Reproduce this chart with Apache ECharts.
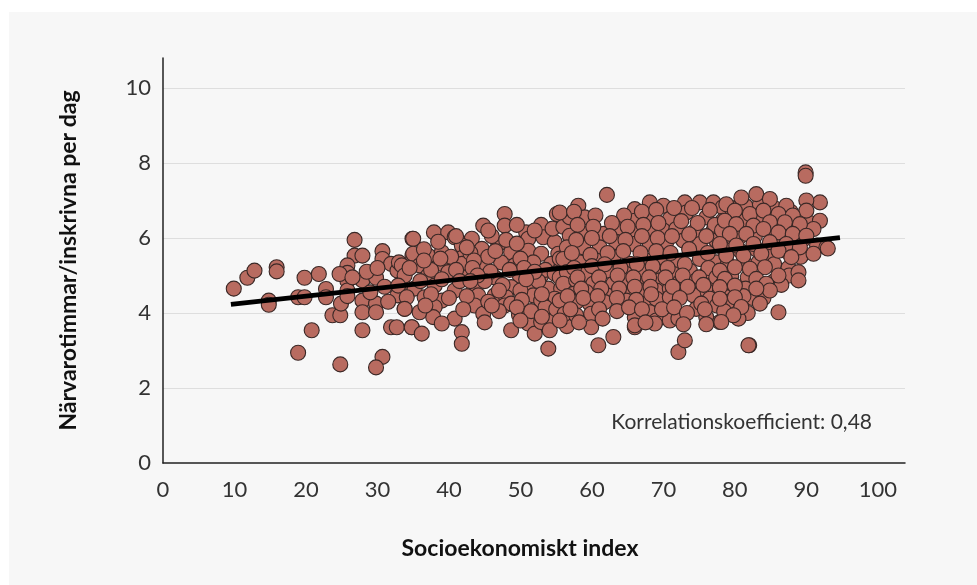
<!DOCTYPE html>
<html>
<head>
<meta charset="utf-8">
<script src="https://cdn.jsdelivr.net/npm/echarts@6/dist/echarts.min.js"></script>
<style>
html,body{margin:0;padding:0;background:#ffffff;}
#chart{width:977px;height:585px;}
</style>
</head>
<body>
<div id="chart"></div>
<script>
// Tick values
var xTicks = [0,10,20,30,40,50,60,70,80,90,100];
var yTicks = [0,2,4,6,8,10];
var gridValues = [2,4,6,8,10];

// Regression line end points
var regLineX = [9.5, 94.7];
var regLineY = [4.23, 6.01];

// Scatter points [socioekonomiskt index, närvarotimmar per dag]
var pointsLow = [
[9.9,4.65],[11.8,4.94],[12.8,5.13],[15.9,5.22],[15.9,5.11],[14.8,4.33],[14.8,4.22],[19.8,4.94],[21.8,5.04],
[18.9,4.42],[19.8,4.42],[20.8,3.54],[18.9,2.94],[22.8,4.64],[22.8,4.42],[23.7,3.94],[24.8,3.94],[24.9,4.25],
[24.8,2.63],[26.8,5.95],[26.8,5.53],[27.9,5.53],[25.8,5.27],[25.8,5.07],[25.8,4.85],[25.8,4.6],[25.8,4.45],
[24.7,5.04],[27.9,4.87],[27.9,4.33],[27.9,4.02],[27.9,3.54],[29.8,4.94],[29.8,4.25],[29.8,4.02],[30.7,5.65],
[30.7,5.44],[31.9,5.31],[32.8,5.13],[31.9,3.62],[30.7,2.83],[29.8,2.55],[32.8,4.47],[33.8,4.11],[34.9,5.98],
[34.9,5.53],[34.8,3.62],[26.5,4.95],[28.5,5.1],[29,4.55],[31,4.7],[31.5,4.3],[33.5,4.8],[33,5.35],[30,5.2]
];
var pointsMid = [
[44.8,6.33],[47.8,6.64],[47.8,6.33],[55.1,6.64],[52.9,6.35],[37.9,6.15],[39.9,6.15],[35.0,5.98],[40.8,6.02],
[43.2,5.98],[50.8,6.15],[51.1,5.98],[53.2,6.02],[54.8,5.89],[46.9,5.84],[41.8,5.80],[44.6,5.71],[35.0,5.58],
[37.1,5.53],[39.0,5.62],[42.0,5.49],[48.7,5.62],[51.1,5.66],[52.9,5.58],[55.3,5.58],[33.4,5.27],[35.9,5.27],
[39.0,5.31],[41.8,5.31],[44.8,5.22],[47.3,5.35],[49.2,5.27],[51.8,5.35],[54.3,5.31],[55.7,5.22],[33.8,5.0],
[37.1,5.0],[39.9,5.09],[42.9,5.0],[46.4,4.95],[49.9,5.0],[52.9,5.0],[32.9,4.73],[35.2,4.65],[38.0,4.73],
[40.8,4.6],[43.8,4.73],[48.7,4.69],[51.1,4.69],[53.9,4.65],[55.7,4.65],[34.1,4.42],[36.6,4.42],[39.0,4.33],
[44.1,4.47],[46.4,4.47],[48.0,4.42],[51.8,4.47],[54.8,4.38],[33.8,4.11],[35.9,4.02],[38.0,4.16],[43.6,4.2],
[44.8,3.98],[47.8,4.2],[48.7,4.25],[52.9,4.33],[37.8,3.89],[40.8,3.85],[32.7,3.62],[34.8,3.62],[36.2,3.45],
[39.0,3.72],[41.8,3.49],[41.8,3.18],[48.7,3.54],[51.1,3.72],[52.0,3.45],[52.9,3.76],[54.6,3.8],[54.1,3.54],
[53.9,3.05],[36.5,5.7],[38.5,5.9],[40.3,5.5],[43,5.6],[45.5,5.5],[46,6.05],[48,5.95],[49.5,5.85],[50,5.45],
[53.5,5.15],[45.8,5.1],[43.5,5.4],[41,5.15],[37.5,5.15],[34.5,5.2],[36,4.85],[39,4.9],[41.5,4.85],[45,4.85],
[47.5,4.75],[50,4.6],[52.5,4.85],[54.8,5.05],[50.5,5.2],[42.5,4.45],[37.5,4.5],[45.5,4.3],[50.2,4.35],
[53.5,4.15],[47,4.05],[49.8,3.95]
];
var pointsMidFill = [
[41,6.05],[42.5,5.75],[45.5,6.2],[49.5,6.35],[52,6.2],[54.5,6.25],[56,6.3],[43.3,5.2],[46.5,5.65],[48.5,5.15],
[52,5.1],[55.5,5.45],[44,5.0],[47,4.6],[50.8,4.9],[53,4.5],[55.5,4.95],[43,4.85],[46,4.2],[49.5,4.15],
[51.5,4.05],[55,4.1],[40,4.4],[38.8,5.45],[36.5,5.4],[36.7,4.2],[42,4.1],[45,3.75],[56.5,3.65],[53,3.9],[50,3.8]
];
var pointsHigh = [
[62.1,7.15],[58.1,6.86],[56.9,6.55],[59.0,6.55],[55.5,6.68],[66.0,6.77],[68.1,6.95],[70.0,6.86],[73.0,6.95],
[75.1,6.95],[77.0,6.95],[78.3,6.82],[66.0,6.46],[68.1,6.51],[70.9,6.51],[73.2,6.68],[76.0,6.55],[78.3,6.46],
[63.9,6.28],[61.6,6.11],[56.9,6.06],[59.0,6.11],[66.0,6.11],[68.1,6.2],[70.0,6.2],[71.8,6.24],[74.2,6.15],
[77.0,6.2],[78.8,6.11],[56.5,5.75],[58.8,5.75],[61.1,5.75],[63.4,5.89],[65.8,5.84],[68.1,5.84],[70.4,5.89],
[72.8,5.93],[75.1,5.84],[77.4,5.93],[78.8,5.8],[56.0,5.44],[58.3,5.35],[60.6,5.4],[63.0,5.49],[65.3,5.31],
[67.6,5.4],[69.5,5.35],[71.8,5.35],[75.1,5.44],[77.4,5.35],[56.5,5.09],[59.0,5.04],[62.1,5.13],[64.8,5.04],
[66.9,5.13],[69.0,5.13],[71.4,5.04],[73.7,5.13],[76.0,5.04],[78.4,5.09],[56.0,4.78],[57.8,4.87],[60.2,4.78],
[63.0,4.78],[64.8,4.87],[67.2,4.78],[69.5,4.87],[72.3,4.82],[74.6,4.87],[77.0,4.78],[78.8,4.69],[57.4,4.51],
[59.2,4.56],[62.1,4.47],[64.8,4.51],[66.9,4.6],[69.0,4.6],[70.9,4.65],[73.7,4.56],[76.0,4.6],[77.9,4.6],
[55.5,4.33],[57.8,4.29],[59.7,4.25],[61.8,4.29],[64.8,4.33],[67.6,4.25],[69.0,4.38],[70.9,4.42],[74.2,4.47],
[76.5,4.38],[78.8,4.42],[56.2,3.98],[57.8,3.94],[59.9,3.98],[66.0,3.98],[68.1,4.02],[69.0,3.8],[70.9,3.8],
[72.1,3.85],[74.6,4.11],[76.0,3.89],[77.9,3.76],[55.5,3.8],[59.9,3.62],[66.0,3.62],[60.9,3.14],[63.0,3.36],
[72.1,2.96],[73.0,3.27],[66.0,3.89],[66.0,3.67],[68.8,3.72]
];
var pointsHighFill = [
[57.5,6.7],[60.5,6.6],[64.5,6.6],[67,6.7],[69,6.75],[71.5,6.8],[74,6.8],[76.5,6.75],[79.5,6.8],[81.5,6.85],[83.5,6.9],[85.5,6.8],[87.8,6.7],
[58,6.35],[60.2,6.3],[62.8,6.4],[65,6.3],[67.2,6.35],[69.3,6.4],[72.5,6.45],[74.8,6.4],[77.2,6.35],[79.5,6.5],[81.3,6.45],[83.2,6.5],[85.8,6.35],[88.2,6.25],[90.5,6.4],
[57.8,5.95],[60,6.0],[62.5,6.05],[64.7,5.95],[67,6.05],[69.2,6.0],[71.2,6.05],[73.6,6.1],[76,6.05],[78.2,6.2],[80.5,6.0],[82.8,6.05],[85.4,6.0],[87.6,6.0],[89.5,5.95],
[57.2,5.6],[59.8,5.55],[62.2,5.6],[64.4,5.65],[66.8,5.6],[69,5.65],[71,5.6],[73.6,5.7],[76.2,5.6],[78.5,5.7],[80.8,5.65],[83,5.7],[85.2,5.55],[87.2,5.65],[89.2,5.5],[91.5,5.8],
[57.5,5.2],[60,5.25],[61.8,5.3],[64,5.2],[66.3,5.3],[68.5,5.25],[70.6,5.2],[73,5.3],[76.3,5.2],[79,5.3],[81.3,5.35],[83.3,5.35],[85.5,5.3],[87.5,5.2],
[58,4.95],[61,4.95],[63.6,5.0],[65.8,4.95],[68,4.95],[70.3,4.95],[72.7,5.0],[75,4.95],[77.4,4.95],[79.5,5.0],[81.8,4.95],[85.5,4.85],[87.6,5.0],
[58.5,4.65],[61.3,4.65],[63.8,4.65],[66,4.7],[68.2,4.7],[71.3,4.7],[73.4,4.7],[75.6,4.75],[78.4,4.8],[81.5,4.65],[82.5,4.4],[86.5,4.75],
[56.6,4.45],[58.8,4.4],[60.8,4.45],[63.5,4.4],[66.2,4.35],[68.3,4.5],[72.3,4.4],[75.3,4.25],[77.5,4.2],[79,4.3],[81.2,4.45],[84,4.4],
[57,4.1],[61,4.1],[63.5,4.05],[65.2,4.15],[67,4.1],[69.8,4.1],[71.5,4.15],[73.3,4.0],[75.8,4.1],[78.5,4.05],[81.8,4.0],[83.5,4.25],
[58.2,3.75],[61.5,3.85],[67.5,3.75],[72.8,3.7],[76,3.7],[80.5,3.85]
];
var pointsTop = [
[89.9,7.75],[89.9,7.66],[91.9,6.95],[90.0,7.0],[90.0,6.73],[91.9,6.46],[91.0,6.24],[92.8,5.75],[91.0,5.58],
[88.9,5.09],[88.9,4.87],[86.1,4.02],[82.0,3.14],[83.0,7.17],[80.9,7.08],[84.9,7.04],[87.2,6.86],[78.8,6.9],
[80.0,6.73],[82.1,6.64],[84.0,6.73],[86.1,6.64],[88.1,6.6],[78.6,6.46],[80.2,6.37],[82.6,6.33],[84.9,6.42],
[87.0,6.42],[89.1,6.37],[79.3,6.11],[81.6,6.11],[84.0,6.24],[86.1,6.15],[88.1,6.11],[90.0,6.06],[77.9,5.84],
[80.2,5.8],[82.6,5.84],[84.9,5.89],[87.2,5.84],[89.1,5.75],[78.8,5.53],[81.2,5.53],[83.7,5.58],[86.1,5.66],
[87.9,5.49],[80.0,5.22],[82.1,5.18],[84.2,5.22],[86.1,5.0],[77.9,5.13],[78.6,4.91],[80.0,4.73],[83.0,4.91],
[84.4,4.78],[84.9,4.6],[83.0,4.65],[77.9,4.69],[80.0,4.42],[77.9,4.38],[80.9,4.16],[79.8,3.94],[78.1,3.76],
[93.0,5.72],[81.9,3.14]
];

var chart = echarts.init(document.getElementById('chart'));
var font = 'Lato, "Open Sans", sans-serif';
var allPoints = pointsLow.concat(pointsMid, pointsMidFill, pointsHigh, pointsHighFill, pointsTop);

chart.setOption({
  backgroundColor: '#ffffff',
  animation: false,
  textStyle: {fontFamily: font},
  graphic: [
    {type: 'rect', left: 9, top: 12, shape: {width: 968, height: 573}, style: {fill: '#f7f7f7'}, z: -100, silent: true},
    {type: 'text', right: 105, top: 412, style: {text: 'Korrelationskoefficient: 0,48', fill: '#333333', font: '21px ' + font}, z: 100}
  ],
  grid: {left: 163, right: 72, top: 58, bottom: 122, containLabel: false},
  xAxis: {
    type: 'value', min: 0, max: 103.8, interval: 10,
    name: 'Socioekonomiskt index', nameLocation: 'middle', nameGap: 74,
    nameTextStyle: {fontSize: 23, fontWeight: 'bold', color: '#111111', fontFamily: font, padding: [0, 28, 0, 0]},
    axisLine: {show: true, lineStyle: {color: '#222222', width: 1.5}},
    axisTick: {show: false},
    splitLine: {show: false},
    axisLabel: {fontSize: 22, color: '#333333', margin: 16, fontFamily: font,
      formatter: function (v) { return xTicks.indexOf(v) >= 0 ? String(v) : ''; }}
  },
  yAxis: {
    type: 'value', min: 0, max: 10.8, interval: 2,
    name: 'Närvarotimmar/inskrivna per dag', nameLocation: 'middle', nameGap: 83, nameRotate: 90,
    nameTextStyle: {fontSize: 23, fontWeight: 'bold', color: '#111111', fontFamily: font},
    axisLine: {show: true, lineStyle: {color: '#222222', width: 1.5}},
    axisTick: {show: false},
    splitLine: {show: false},
    axisLabel: {fontSize: 22, color: '#333333', margin: 12, fontFamily: font,
      formatter: function (v) { return yTicks.indexOf(v) >= 0 ? String(v) : ''; }}
  },
  series: [
    {
      type: 'line', data: [], z: 0, silent: true,
      markLine: {
        silent: true, symbol: 'none', z: 0, animation: false,
        label: {show: false},
        lineStyle: {color: '#dedede', width: 1.2, type: 'solid'},
        data: gridValues.map(function (g) { return {yAxis: g}; })
      }
    },
    {
      type: 'scatter', data: allPoints, symbol: 'circle', symbolSize: 15, z: 2,
      itemStyle: {color: '#b86b60', borderColor: '#3a2826', borderWidth: 1.1, opacity: 1}
    },
    {
      type: 'line', data: [[regLineX[0], regLineY[0]], [regLineX[1], regLineY[1]]],
      symbol: 'none', z: 5, silent: true,
      lineStyle: {color: '#000000', width: 5, cap: 'butt'}
    }
  ]
});
</script>
</body>
</html>
